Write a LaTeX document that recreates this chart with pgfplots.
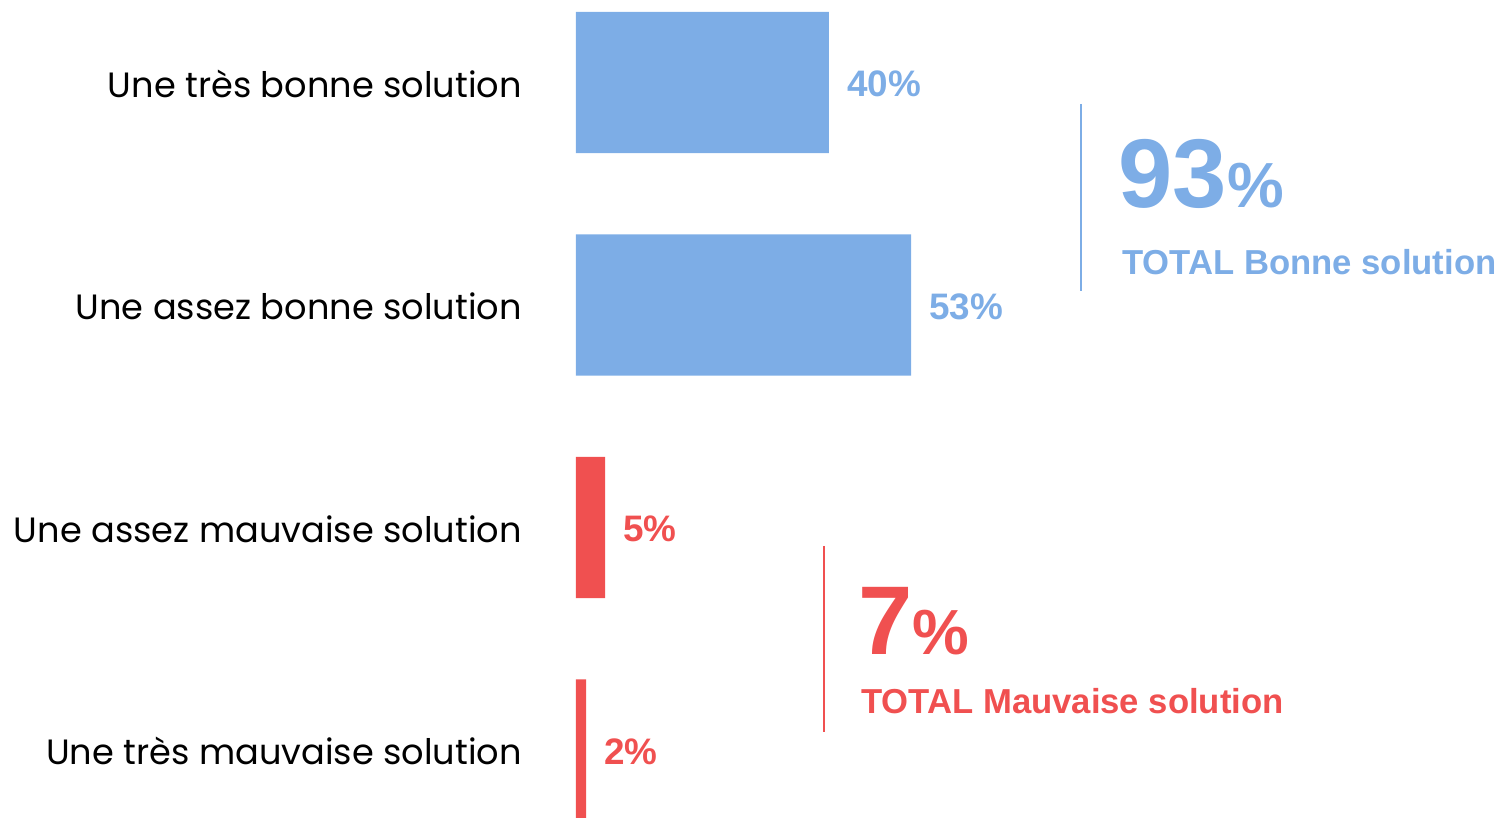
\documentclass[border=0pt]{standalone}
\usepackage{pgfplots}
\pgfplotsset{compat=1.18}
\usepackage{fontspec}
\setmainfont{Liberation Sans}
\newfontfamily\catfont{Poppins}
\definecolor{cblue}{HTML}{7DADE6}
\definecolor{cred}{HTML}{F05050}
\begin{document}
\begin{tikzpicture}
\begin{axis}[
  at={(0,0)}, anchor=south west,
  scale only axis, width=925bp, height=818bp,
  xmin=0, xmax=146.25, ymin=-0.3708, ymax=3.3056, y dir=reverse,
  xbar, bar width=0.634, bar shift=0pt,
  axis line style={draw=none}, major tick length=0pt,
  xtick=\empty, ytick={0,1,2,3},
  yticklabels={Une très bonne solution, Une assez bonne solution, Une assez mauvaise solution, Une très mauvaise solution},
  yticklabel style={font=\catfont\fontsize{35.3}{40}\selectfont, text=black, anchor=base east, inner sep=0pt, xshift=-54bp, yshift=-14.5bp},
  clip=false,
  point meta=x,
  /pgf/number format/assume math mode=true,
  /pgf/number format/fixed, /pgf/number format/precision=0,
  nodes near coords={\pgfmathprintnumber{\pgfplotspointmeta}\%},
  nodes near coords style={font=\bfseries\fontsize{37}{40}\selectfont, anchor=west, inner sep=0pt, xshift=18bp, yshift=-1.5bp},
]
\addplot[fill=cblue, draw=none, every node near coord/.append style={text=cblue}] coordinates {(40,0) (53,1)};
\addplot[fill=cred, draw=none, every node near coord/.append style={text=cred}] coordinates {(4.6,2) (1.6,3)};

\draw[cblue, line width=2bp] (axis cs:79.84,0.0966) -- (axis cs:79.84,0.937);
\node[anchor=base west, inner sep=0pt, text=cblue, font=\bfseries] at (axis cs:85.77,0.564) {\fontsize{98}{98}\selectfont 93\fontsize{64}{64}\selectfont\%};
\node[anchor=base west, inner sep=0pt, text=cblue, font=\bfseries\fontsize{34.8}{36}\selectfont] at (axis cs:86.32,0.8607) {TOTAL Bonne solution};

\draw[cred, line width=2bp] (axis cs:39.21,2.083) -- (axis cs:39.21,2.919);
\node[anchor=base west, inner sep=0pt, text=cred, font=\bfseries] at (axis cs:44.58,2.5685) {\fontsize{98}{98}\selectfont 7\fontsize{64}{64}\selectfont\%};
\node[anchor=base west, inner sep=0pt, text=cred, font=\bfseries\fontsize{34.8}{36}\selectfont] at (axis cs:45.06,2.8337) {TOTAL Mauvaise solution};
\end{axis}
\pgfresetboundingbox
\path (-576bp,0bp) rectangle (925bp,818bp);
\end{tikzpicture}
\end{document}
